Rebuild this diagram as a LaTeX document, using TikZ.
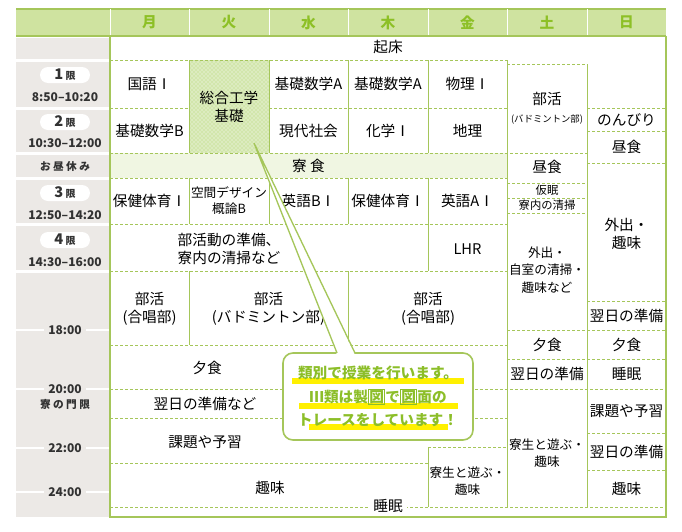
\documentclass[tikz,border=0pt]{standalone}
\usepackage{fontspec}
\setmainfont{Noto Sans CJK JP}
\usetikzlibrary{patterns}

\definecolor{hdrgreen}{RGB}{207,227,160}
\definecolor{daygreen}{RGB}{141,192,38}
\definecolor{linegreen}{RGB}{165,198,90}
\definecolor{grayc}{RGB}{236,233,230}
\definecolor{palegreen}{RGB}{240,246,226}
\definecolor{sougreen}{RGB}{210,230,172}
\definecolor{hiyellow}{RGB}{255,240,0}
\definecolor{notegreen}{RGB}{140,190,40}
\definecolor{timegray}{RGB}{50,50,50}

\tikzset{every picture/.style={line width=0.75pt}}
\tikzset{
  cell/.style={font=\fontsize{11}{13.5}\selectfont, align=center, inner sep=0.75pt},
  tiny/.style={font=\fontsize{8.5}{10}\selectfont, align=center, inner sep=0.75pt},
  day/.style={font=\bfseries\fontsize{11}{12}\selectfont, text=daygreen, inner sep=0.75pt},
  timel/.style={font=\bfseries\fontsize{9}{10}\selectfont, text=timegray, inner sep=0.75pt},
  pill/.style={fill=white, rounded corners=6pt, minimum width=37.5pt, minimum height=12pt, inner sep=0pt, text=timegray},
  dl/.style={draw=linegreen, dash pattern=on 2.25pt off 1.5pt},
  sl/.style={draw=linegreen},
  notetext/.style={font=\bfseries\fontsize{11}{12}\selectfont, text=notegreen, inner sep=0.75pt}
}
\newcommand{\gen}[1]{{\fontsize{11}{12}\selectfont\bfseries #1}\,{\fontsize{7.5}{9}\selectfont\bfseries 限}}
\newcommand{\zu}{{\setlength{\fboxsep}{0.3pt}\setlength{\fboxrule}{0.7pt}\fbox{図}}}

\begin{document}
\begin{tikzpicture}[x=0.75pt,y=0.75pt,yscale=-1,xscale=1]
    \useasboundingbox (0,0) rectangle (682,532);

    %Shape: Header
    \fill[hdrgreen] (16,9) rectangle (666,36);
    \draw[sl, line width=1pt] (16,9) -- (666,9) (16,36) -- (666,36);
    \draw[white] (110,9) -- (110,35) (189,9) -- (189,35) (269,9) -- (269,35) (348,9) -- (348,35) (428,9) -- (428,35) (507,9) -- (507,35) (587,9) -- (587,35);
    \node[day] (mon) at (149.5,22.5) {月};
    \node[day] (tue) at (229,22.5) {火};
    \node[day] (wed) at (308.5,22.5) {水};
    \node[day] (thu) at (388,22.5) {木};
    \node[day] (fri) at (467.5,22.5) {金};
    \node[day] (sat) at (547,22.5) {土};
    \node[day] (sun) at (626.5,22.5) {日};

    %Shape: Left column
    \fill[grayc] (16,37.5) rectangle (110,58.5);
    \fill[grayc] (16,61.5) rectangle (110,106.5);
    \fill[grayc] (16,109.5) rectangle (110,151.5);
    \fill[grayc] (16,154.5) rectangle (110,176.5);
    \fill[grayc] (16,179.5) rectangle (110,222.5);
    \fill[grayc] (16,225.5) rectangle (110,269.5);
    \fill[grayc] (16,272.5) rectangle (110,517);
    \draw[white, line width=1.5pt] (16,330) -- (110,330) (16,389) -- (110,389) (16,448) -- (110,448) (16,492) -- (110,492);

    %Shape: Filled cells
    \fill[sougreen] (189,60) rectangle (269,153);
    \fill[pattern=crosshatch dots, pattern color=white] (189,60) rectangle (269,153);
    \fill[palegreen] (110,153) rectangle (507,178);

    %Dashed Lines
    \draw[dl] (110,60) -- (507,60) (507,64) -- (587,64);
    \draw[dl] (110,108) -- (189,108) (269,108) -- (507,108) (587,108) -- (666,108);
    \draw[dl] (587,131) -- (666,131) (110,153) -- (587,153) (587,163) -- (666,163);
    \draw[dl] (110,178) -- (507,178) (507,183) -- (587,183) (507,198) -- (587,198) (507,213) -- (587,213);
    \draw[dl] (110,224) -- (507,224) (110,271) -- (507,271) (587,301) -- (666,301) (507,330) -- (666,330);
    \draw[dl] (110,345) -- (507,345) (507,359) -- (666,359) (110,389) -- (666,389);
    \draw[dl] (110,418) -- (507,418) (587,433) -- (666,433) (428,447) -- (507,447) (110,463) -- (428,463) (587,470) -- (666,470);
    \draw[dl] (110,507) -- (666,507);

    %Straight Lines
    \draw[sl] (189,60) -- (189,153) (189,178) -- (189,224) (189,271) -- (189,345);
    \draw[sl] (269,60) -- (269,153) (269,178) -- (269,224);
    \draw[sl] (348,60) -- (348,153) (348,178) -- (348,224) (348,271) -- (348,345);
    \draw[sl] (428,60) -- (428,153) (428,178) -- (428,271) (428,447) -- (428,507);
    \draw[sl] (507,60) -- (507,507) (587,64) -- (587,507);
    \draw[sl, line width=1.5pt] (110,36) -- (110,517) -- (666,517) -- (666,36);

    % Text Node: left column
    \node[pill] (p1) at (65,75) {\gen{1}};
    \node[timel] (t1) at (65,97) {8:50–10:20};
    \node[pill] (p2) at (65,122) {\gen{2}};
    \node[timel] (t2) at (65,143) {10:30–12:00};
    \node[timel, font=\bfseries\fontsize{8}{9}\selectfont] (lunch) at (65,166) {お 昼 休 み};
    \node[pill] (p3) at (65,193) {\gen{3}};
    \node[timel] (t3) at (65,215) {12:50–14:20};
    \node[pill] (p4) at (65,240) {\gen{4}};
    \node[timel] (t4) at (65,262) {14:30–16:00};
    \node[timel, fill=grayc, inner xsep=3pt] (h18) at (65,330) {18:00};
    \node[timel, fill=grayc, inner xsep=3pt] (h20) at (65,389) {20:00};
    \node[timel, font=\bfseries\fontsize{8}{9}\selectfont] (mongen) at (65,404) {寮 の 門 限};
    \node[timel, fill=grayc, inner xsep=3pt] (h22) at (65,448) {22:00};
    \node[timel, fill=grayc, inner xsep=3pt] (h24) at (65,492) {24:00};

    % Text Node: weekdays
    \node[cell] (kisho) at (388,47) {起床};
    \node[cell] (kokugo) at (149.5,84) {国語Ⅰ};
    \node[cell] (sougou) at (229,107) {総合工学\\基礎};
    \node[cell] (suA1) at (308.5,84) {基礎数学A};
    \node[cell] (suA2) at (388,84) {基礎数学A};
    \node[cell] (butsuri) at (467.5,84) {物理Ⅰ};
    \node[cell] (suB) at (149.5,131) {基礎数学B};
    \node[cell] (gendai) at (308.5,131) {現代社会};
    \node[cell] (kagaku) at (388,131) {化学Ⅰ};
    \node[cell] (chiri) at (467.5,131) {地理};
    \node[cell] (ryoshoku) at (308.5,166) {寮 食};
    \node[cell] (hoken1) at (149.5,201) {保健体育Ⅰ};
    \node[cell, font=\fontsize{9.5}{12}\selectfont] (kukan) at (229,201) {空間デザイン\\概論B};
    \node[cell] (eiB) at (308.5,201) {英語BⅠ};
    \node[cell] (hoken2) at (388,201) {保健体育Ⅰ};
    \node[cell] (eiA) at (467.5,201) {英語AⅠ};
    \node[cell] (junbi) at (229,249) {部活動の準備、\\寮内の清掃など};
    \node[cell] (lhr) at (467.5,249) {LHR};
    \node[cell] (gassho1) at (149.5,309) {部活\\(合唱部)};
    \node[cell] (badmin) at (268.5,309) {部活\\(バドミントン部)};
    \node[cell] (gassho2) at (428,309) {部活\\(合唱部)};
    \node[cell] (yushoku) at (207,368) {夕食};
    \node[cell] (yokujitsu) at (205,404) {翌日の準備など};
    \node[cell] (kadai) at (205,442) {課題や予習};
    \node[cell] (shumi) at (270,488) {趣味};
    \node[cell, font=\fontsize{9.5}{12.5}\selectfont] (asobu1) at (467.5,481) {寮生と遊ぶ・\\趣味};
    \node[cell, fill=white, inner xsep=3pt] (suimin) at (388,506) {睡眠};

    % Text Node: Saturday
    \node[cell] (satbu) at (547,108) {部活\\{\fontsize{7}{9}\selectfont(バドミントン部)}};
    \node[cell] (satlunch) at (547,167) {昼食};
    \node[tiny] (kamin) at (547,190.5) {仮眠};
    \node[tiny] (seiso) at (547,205.5) {寮内の清掃};
    \node[cell, font=\fontsize{9.5}{13}\selectfont] (gaishutsu1) at (547,270) {外出・\\自室の清掃・\\趣味など};
    \node[cell] (satdin) at (547,344.5) {夕食};
    \node[cell] (satjun) at (547,374) {翌日の準備};
    \node[cell, font=\fontsize{9.5}{12.5}\selectfont] (asobu2) at (547,453) {寮生と遊ぶ・\\趣味};

    % Text Node: Sunday
    \node[cell] (nonbiri) at (626.5,119.5) {のんびり};
    \node[cell] (sunlunch) at (626.5,147) {昼食};
    \node[cell] (gaishutsu2) at (626.5,234) {外出・\\趣味};
    \node[cell] (sunjun1) at (626.5,316) {翌日の準備};
    \node[cell] (sundin) at (626.5,344.5) {夕食};
    \node[cell] (sunsui) at (626.5,374) {睡眠};
    \node[cell] (sunkadai) at (626.5,411) {課題や予習};
    \node[cell] (sunjun2) at (626.5,452) {翌日の準備};
    \node[cell] (sunshumi) at (626.5,489) {趣味};

    %Shape: Callout
    \node[draw=linegreen, line width=1.2pt, fill=white, rounded corners=7.5pt, minimum width=142.5pt, minimum height=65.25pt] (note) at (378,396.5) {};
    \coordinate (tip) at (254,143);
    \coordinate (pl) at (337,353);
    \coordinate (pr) at (355,353);
    \fill[white] (337,355) -- (tip) -- (355,355) -- cycle;
    \draw[sl, line width=1pt] (tip) -- (pl) (tip) -- (pr);
    \fill[hiyellow] (292,377.5) rectangle (464,383.5);
    \fill[hiyellow] (299,402.5) rectangle (458,408.5);
    \fill[hiyellow] (309,424) rectangle (448,430);
    \node[notetext] (note1) at (378,373) {類別で授業を行います。};
    \node[notetext] (note2) at (378,397) {Ⅲ類は製\zu で\zu 面の};
    \node[notetext] (note3) at (378,420) {トレースをしています！};

\end{tikzpicture}
\end{document}
